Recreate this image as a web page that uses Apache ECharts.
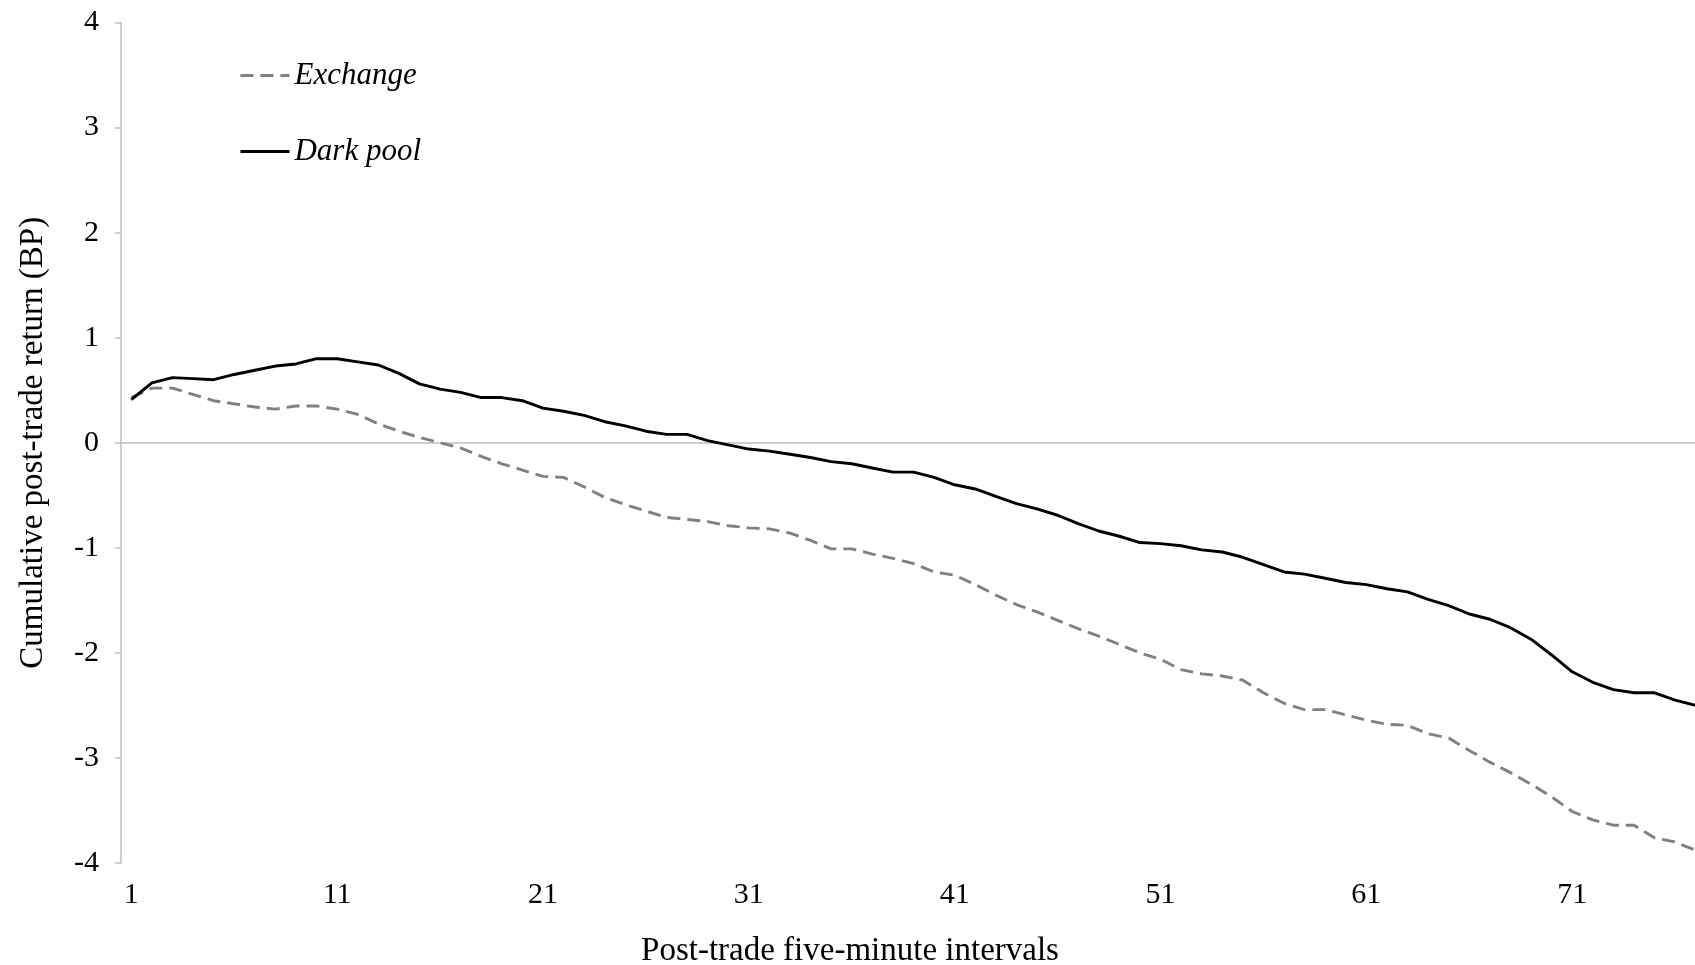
<!DOCTYPE html>
<html>
<head>
<meta charset="utf-8">
<script src="https://cdn.jsdelivr.net/npm/echarts@6/dist/echarts.min.js"></script>
<style>
html,body{margin:0;padding:0;background:#fff;overflow:hidden;}
#chart{width:1695px;height:965px;}
</style>
</head>
<body>
<div id="chart"></div>
<script>
var categories = Array.from({length: 77}, function (_, i) { return String(i + 1); });

var exchange = [
  0.43, 0.52, 0.52, 0.46, 0.40, 0.37, 0.34, 0.32, 0.35, 0.35,
  0.32, 0.27, 0.18, 0.11, 0.05, 0.00, -0.05, -0.13, -0.20, -0.26,
  -0.32, -0.33, -0.42, -0.52, -0.59, -0.65, -0.71, -0.73, -0.75, -0.79,
  -0.81, -0.82, -0.86, -0.93, -1.01, -1.01, -1.06, -1.10, -1.15, -1.23,
  -1.26, -1.35, -1.45, -1.54, -1.61, -1.69, -1.77, -1.84, -1.92, -2.00,
  -2.06, -2.16, -2.20, -2.22, -2.26, -2.38, -2.48, -2.54, -2.54, -2.59,
  -2.64, -2.68, -2.69, -2.77, -2.81, -2.93, -3.04, -3.14, -3.25, -3.37,
  -3.51, -3.59, -3.64, -3.64, -3.76, -3.80, -3.88
];

var darkPool = [
  0.41, 0.57, 0.62, 0.61, 0.60, 0.65, 0.69, 0.73, 0.75, 0.80,
  0.80, 0.77, 0.74, 0.66, 0.56, 0.51, 0.48, 0.43, 0.43, 0.40,
  0.33, 0.30, 0.26, 0.20, 0.16, 0.11, 0.08, 0.08, 0.02, -0.02,
  -0.06, -0.08, -0.11, -0.14, -0.18, -0.20, -0.24, -0.28, -0.28, -0.33,
  -0.40, -0.44, -0.51, -0.58, -0.63, -0.69, -0.77, -0.84, -0.89, -0.95,
  -0.96, -0.98, -1.02, -1.04, -1.09, -1.16, -1.23, -1.25, -1.29, -1.33,
  -1.35, -1.39, -1.42, -1.49, -1.55, -1.63, -1.68, -1.76, -1.87, -2.02,
  -2.18, -2.28, -2.35, -2.38, -2.38, -2.45, -2.50
];

var FONT = '"Liberation Serif", "DejaVu Serif", serif';
var AXIS_GRAY = '#bfbfbf';

var chart = echarts.init(document.getElementById('chart'));
chart.setOption({
  backgroundColor: '#ffffff',
  animation: false,
  textStyle: { fontFamily: FONT, color: '#000' },
  grid: { left: 121, top: 22.5, bottom: 102, right: -11, containLabel: false, outerBoundsMode: 'none' },
  legend: [
    {
      data: ['Exchange'], orient: 'vertical', left: 234, top: 55,
      itemWidth: 49, itemHeight: 14, itemGap: 4,
      itemStyle: { opacity: 0 },
      lineStyle: { width: 2.9 },
      textStyle: { fontFamily: FONT, fontSize: 31, fontStyle: 'italic', color: '#000' }
    },
    {
      data: ['Dark pool'], orient: 'vertical', left: 234, top: 131,
      itemWidth: 49, itemHeight: 14, itemGap: 4,
      itemStyle: { opacity: 0 },
      lineStyle: { width: 2.9 },
      textStyle: { fontFamily: FONT, fontSize: 31, fontStyle: 'italic', color: '#000' }
    }
  ],
  xAxis: [
    {
      type: 'category', data: categories, boundaryGap: true, position: 'bottom',
      axisLine: { show: true, onZero: true, lineStyle: { color: AXIS_GRAY, width: 1.5 } },
      axisTick: { show: false }, axisLabel: { show: false }, splitLine: { show: false }
    },
    {
      type: 'category', data: categories, boundaryGap: true, position: 'bottom',
      axisLine: { show: false, onZero: false }, axisTick: { show: false }, splitLine: { show: false },
      axisLabel: { interval: 9, margin: 17, fontFamily: FONT, fontSize: 30, color: '#000' }
    }
  ],
  yAxis: {
    type: 'value', min: -4, max: 4, interval: 1,
    name: 'Cumulative post-trade return (BP)', nameLocation: 'middle', nameGap: 71, nameRotate: 90,
    nameTextStyle: { fontFamily: FONT, fontSize: 33, color: '#000' },
    axisLine: { show: true, lineStyle: { color: AXIS_GRAY, width: 1.5 } },
    axisTick: { show: true, length: 6, lineStyle: { color: AXIS_GRAY, width: 1.5 } },
    splitLine: { show: false },
    axisLabel: { margin: 22, fontFamily: FONT, fontSize: 30, color: '#000' }
  },
  graphic: [
    {
      type: 'text', x: 850, y: 951,
      style: {
        text: 'Post-trade five-minute intervals', fill: '#000',
        font: '33px "Liberation Serif", "DejaVu Serif", serif',
        align: 'center', verticalAlign: 'middle'
      }
    }
  ],
  series: [
    {
      name: 'Exchange', type: 'line', data: exchange, symbol: 'none', smooth: false,
      xAxisIndex: 0, yAxisIndex: 0,
      lineStyle: { color: '#808080', width: 2.9, type: [13, 7] },
      itemStyle: { color: '#808080' }
    },
    {
      name: 'Dark pool', type: 'line', data: darkPool, symbol: 'none', smooth: false,
      xAxisIndex: 0, yAxisIndex: 0,
      lineStyle: { color: '#000000', width: 2.9, type: 'solid' },
      itemStyle: { color: '#000000' }
    }
  ]
});
</script>
</body>
</html>
